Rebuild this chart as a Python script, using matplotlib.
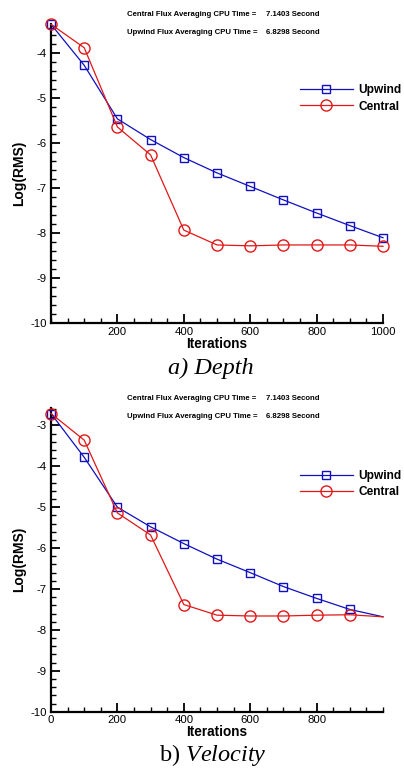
import matplotlib
matplotlib.use('Agg')
import math
import matplotlib.pyplot as plt
from matplotlib.ticker import MultipleLocator

plt.rcParams['font.family'] = ['Liberation Sans', 'DejaVu Sans']
plt.rcParams['axes.unicode_minus'] = False
plt.rcParams['mathtext.fontset'] = 'custom'
plt.rcParams['mathtext.rm'] = 'Liberation Serif'
plt.rcParams['mathtext.it'] = 'Liberation Serif:italic'

# dados
iteracoes = [0, 100, 200, 300, 400, 500, 600, 700, 800, 900, 1000]
depth_upwind = [-3.36, -4.27, -5.46, -5.92, -6.32, -6.66, -6.96, -7.26, -7.55, -7.83, -8.10]
depth_central = [-3.36, -3.88, -5.64, -6.26, -7.93, -8.26, -8.28, -8.26, -8.26, -8.26, -8.29]
vel_upwind = [-2.71, -3.78, -5.00, -5.48, -5.89, -6.27, -6.60, -6.94, -7.23, -7.50, -7.68]
vel_central = [-2.71, -3.36, -5.14, -5.68, -7.38, -7.64, -7.66, -7.66, -7.64, -7.63, -7.68]

cpu_labels = ['Central Flux Averaging CPU Time =', 'Upwind Flux Averaging CPU Time =']
cpu_values = ['7.1403 Second', '6.8298 Second']

W, H = 404, 768
fig = plt.figure(figsize=(W / 100, H / 100), dpi=100)


def px(x, y):
    return x / W, 1 - y / H


azul = '#1010c0'
vermelho = '#e01818'


def painel(rect, upwind, central, ylim_top, xticks, text_y, leg_y, markevery):
    ax = fig.add_axes(rect)
    ax.plot(iteracoes, upwind, color=azul, lw=0.9, marker='s', ms=6,
            mfc='none', mec=azul, mew=1.0, label='Upwind', clip_on=False,
            markevery=markevery, zorder=3)
    ax.plot(iteracoes, central, color=vermelho, lw=0.9, marker='o', ms=8,
            mfc='none', mec=vermelho, mew=1.0, label='Central', clip_on=False,
            markevery=markevery, zorder=3)
    ax.set_xlim(0, 1000)
    ax.set_ylim(-10, ylim_top)
    ax.set_xticks(xticks)
    ax.xaxis.set_minor_locator(MultipleLocator(50))
    ax.yaxis.set_minor_locator(MultipleLocator(0.2))
    ax.set_yticks(list(range(-10, math.floor(ylim_top) + 1)))
    ax.set_ylim(-10, ylim_top)
    ax.spines['top'].set_visible(False)
    ax.spines['right'].set_visible(False)
    for s in ['left', 'bottom']:
        ax.spines[s].set_linewidth(1.6)
    ax.tick_params(which='major', direction='in', length=6.5, width=1.3,
                   labelsize=8.2, pad=3)
    ax.tick_params(which='minor', direction='in', length=3.6, width=1.0)
    ax.tick_params(axis='x', pad=2.5)
    ax.set_xlabel('Iterations', fontsize=9.8, fontweight='bold', labelpad=0)
    ax.set_ylabel('Log(RMS)', fontsize=10, fontweight='bold', labelpad=3)
    for i in range(2):
        fig.text(*px(127, text_y[i]), cpu_labels[i], fontsize=5.6,
                 fontweight='bold', va='center')
        fig.text(*px(266, text_y[i]), cpu_values[i], fontsize=5.6,
                 fontweight='bold', va='center')
    ax.legend(loc='upper left', bbox_to_anchor=px(300, leg_y),
              bbox_transform=fig.transFigure, frameon=False,
              prop={'weight': 'bold', 'size': 8.6}, handlelength=4.4,
              handletextpad=0.5, labelspacing=0.35, borderpad=0,
              borderaxespad=0)
    return ax


painel([51 / W, 1 - 323.3 / H, 332 / W, 299 / H], depth_upwind, depth_central,
       -3.36, [200, 400, 600, 800, 1000], [14, 32], 84.5, None)
painel([51 / W, 1 - 711.7 / H, 332 / W, 303.9 / H], vel_upwind, vel_central,
       -2.57, [0, 200, 400, 600, 800], [398, 416], 470, slice(0, 10))

fig.text(*px(211, 368), 'a) Depth', fontsize=17.5, family='Liberation Serif',
         style='italic', ha='center', va='center')
fig.text(*px(213, 755), r'b) $\mathit{Velocity}$', fontsize=17.5,
         family='Liberation Serif', ha='center', va='center')

fig.savefig('out.png', dpi=100)
